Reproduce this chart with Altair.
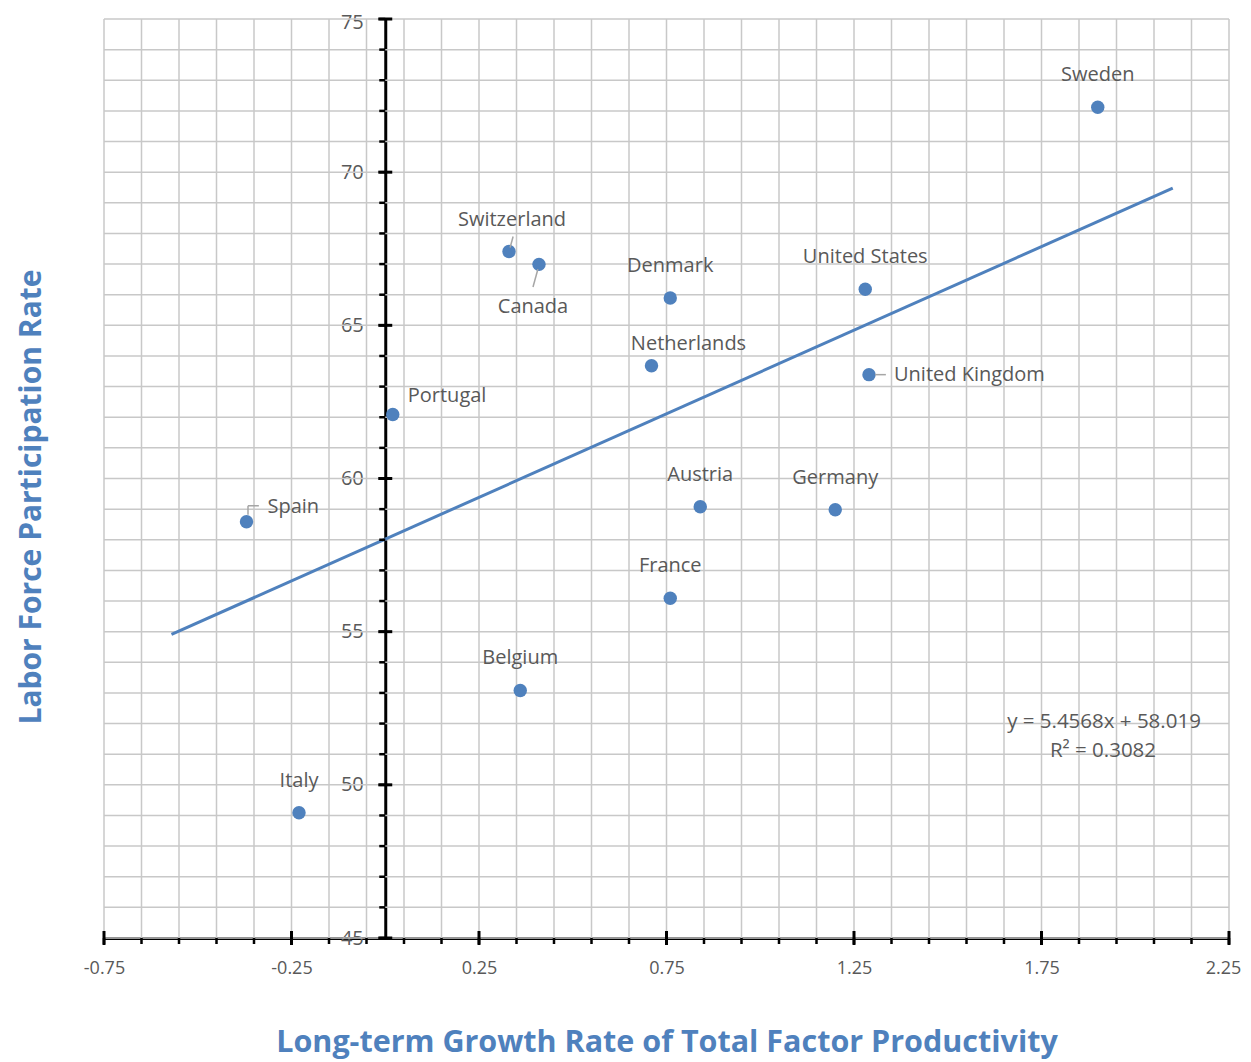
import altair as alt
import pandas as pd

countries = ["Sweden", "Switzerland", "Canada", "Denmark", "United States", "Netherlands",
             "United Kingdom", "Portugal", "Spain", "Austria", "Germany", "France", "Belgium", "Italy"]
tfp = [1.90, 0.33, 0.41, 0.76, 1.28, 0.71, 1.29, 0.02, -0.37, 0.84, 1.20, 0.76, 0.36, -0.23]
lfpr = [72.12, 67.41, 66.99, 65.89, 66.18, 63.68, 63.39, 62.09, 58.59, 59.08, 58.98, 56.09, 53.08, 49.09]

trend_x = [-0.57, 2.10]
trend_y = [54.91, 69.48]

x_major = [-0.75, -0.25, 0.25, 0.75, 1.25, 1.75, 2.25]
y_major = [45, 50, 55, 60, 65, 70, 75]
x_minor = [round(-0.75 + 0.1 * i, 2) for i in range(31)]
y_minor = list(range(45, 76))

# leader lines (data units)
lead_x = [0.333, 0.407, -0.366, -0.366, 1.306]
lead_y = [67.54, 66.83, 58.82, 59.11, 63.39]
lead_x2 = [0.341, 0.394, -0.366, -0.337, 1.335]
lead_y2 = [67.90, 66.25, 59.11, 59.11, 63.39]

df = pd.DataFrame({"country": countries, "tfp": tfp, "lfpr": lfpr})
trend = pd.DataFrame({"tfp": trend_x, "lfpr": trend_y})
leads = pd.DataFrame({"tfp": lead_x, "lfpr": lead_y, "x2": lead_x2, "y2": lead_y2})
xmaj = pd.DataFrame({"tfp": x_major, "lfpr": [45] * len(x_major)})
ymaj = pd.DataFrame({"lfpr": y_major, "tfp": [0] * len(y_major)})
xmin = pd.DataFrame({"tfp": x_minor, "lfpr": [45] * len(x_minor)})
ymin = pd.DataFrame({"lfpr": y_minor, "tfp": [0] * len(y_minor)})

BLUE = "#4f81bd"
GRAY = "#595959"
GRID = "#c8c8c8"
FONT = "Open Sans"

xs = alt.Scale(domain=[-0.75, 2.25], nice=False, zero=False)
ys = alt.Scale(domain=[45, 75], nice=False, zero=False)

x_axis = alt.Axis(
    values=x_major, grid=False,
    domainColor="black", domainWidth=3, ticks=True, tickOpacity=0, tickSize=5,
    format=".2f", labelExpr="replace(datum.label, '\u2212', '-')",
    labelFontSize=18, labelColor=GRAY, labelFont=FONT, labelPadding=16,
    labelFlush=False, labelOverlap=False,
    labelOffset={"condition": {"test": "datum.value > 2.2", "value": -6}, "value": 0},
    title="Long-term Growth Rate of Total Factor Productivity",
    titleFont=FONT, titleFontSize=30.5, titleFontWeight="bold", titleColor=BLUE, titlePadding=50,
)
y_axis = alt.Axis(
    values=y_major, grid=False, offset=-281.25,
    domainColor="black", domainWidth=3, ticks=True, tickOpacity=0, tickSize=5,
    format="d",
    labelFontSize=20, labelColor=GRAY, labelFont=FONT, labelPadding=17,
    labelFlush=False, labelOverlap=False, title=None,
    labelOffset={"condition": {"test": "datum.value > 74", "value": 3}, "value": 0},
)

X = lambda f: alt.X(f, scale=xs)
Y = lambda f: alt.Y(f, scale=ys)

grid_x = alt.Chart(xmin).mark_rule(color=GRID, strokeWidth=1.5).encode(
    x=alt.X("tfp:Q", scale=xs, axis=x_axis)
)
grid_y = alt.Chart(ymin).mark_rule(color=GRID, strokeWidth=1.5).encode(
    y=alt.Y("lfpr:Q", scale=ys, axis=y_axis)
)

trend_line = alt.Chart(trend).mark_line(color=BLUE, strokeWidth=3).encode(
    x=X("tfp:Q"), y=Y("lfpr:Q"),
)

points = alt.Chart(df).mark_point(filled=True, size=180, color=BLUE, opacity=1).encode(
    x=X("tfp:Q"), y=Y("lfpr:Q"),
)

def labels(names, **kw):
    base = dict(font=FONT, fontSize=20, color=GRAY, baseline="middle")
    base.update(kw)
    return alt.Chart(df).transform_filter(
        alt.FieldOneOfPredicate(field="country", oneOf=names)
    ).mark_text(**base).encode(
        x=X("tfp:Q"), y=Y("lfpr:Q"), text="country:N"
    )

lab_above = labels(["Sweden", "Denmark", "United States", "Austria", "Germany", "France",
                    "Belgium", "Italy"], align="center", dy=-32)
lab_swiss = labels(["Switzerland"], align="center", dx=3, dy=-32)
lab_canada = labels(["Canada"], align="center", dx=-6, dy=43)
lab_neth = labels(["Netherlands"], align="center", dx=37, dy=-22)
lab_uk = labels(["United Kingdom"], align="left", dx=25, dy=0)
lab_port = labels(["Portugal"], align="left", dx=15, dy=-18)
lab_spain = labels(["Spain"], align="left", dx=21, dy=-15)

leader = alt.Chart(leads).mark_rule(color="#a6a6a6", strokeWidth=1.5).encode(
    x=X("tfp:Q"), y=Y("lfpr:Q"), x2="x2:Q", y2="y2:Q"
)

xticks_min = alt.Chart(xmin).mark_tick(orient="vertical", size=6, thickness=2.5, color="black",
                                       opacity=1, yOffset=3).encode(x=X("tfp:Q"), y=Y("lfpr:Q"))
yticks_min = alt.Chart(ymin).mark_tick(orient="horizontal", size=6, thickness=2.5, color="black",
                                       opacity=1, xOffset=-3).encode(x=X("tfp:Q"), y=Y("lfpr:Q"))
xticks = alt.Chart(xmaj).mark_tick(orient="vertical", size=14, thickness=3, color="black",
                                   opacity=1).encode(x=X("tfp:Q"), y=Y("lfpr:Q"))
yticks = alt.Chart(ymaj).mark_tick(orient="horizontal", size=14, thickness=3, color="black",
                                   opacity=1).encode(x=X("tfp:Q"), y=Y("lfpr:Q"))

eq_text = ["y = 5.4568x + 58.019", "R² = 0.3082"]
eq1 = alt.Chart(pd.DataFrame({"t": [eq_text[0]]})).mark_text(
    font=FONT, fontSize=20.5, color=GRAY, align="center", baseline="middle"
).encode(x=alt.value(1000), y=alt.value(703), text="t:N")
eq2 = alt.Chart(pd.DataFrame({"t": [eq_text[1]]})).mark_text(
    font=FONT, fontSize=20.5, color=GRAY, align="center", baseline="middle"
).encode(x=alt.value(999), y=alt.value(732), text="t:N")

ytitle = alt.Chart(pd.DataFrame({"t": ["Labor Force Participation Rate"]})).mark_text(
    font=FONT, fontSize=30, fontWeight="bold", color=BLUE, angle=270, align="center", baseline="middle"
).encode(x=alt.value(-72), y=alt.value(478), text="t:N")

chart = alt.layer(
    grid_x, grid_y, trend_line, points, leader, lab_above, lab_swiss, lab_canada, lab_neth,
    lab_uk, lab_port, lab_spain, xticks_min, yticks_min, xticks, yticks, eq1, eq2, ytitle
).properties(
    width=1125, height=919,
    autosize=alt.AutoSizeParams(type="none"),
    padding={"left": 96, "top": 11, "right": 14, "bottom": 124},
).configure_view(stroke=None)

chart.save("out.html", embed_options={"renderer": "svg", "actions": False})
